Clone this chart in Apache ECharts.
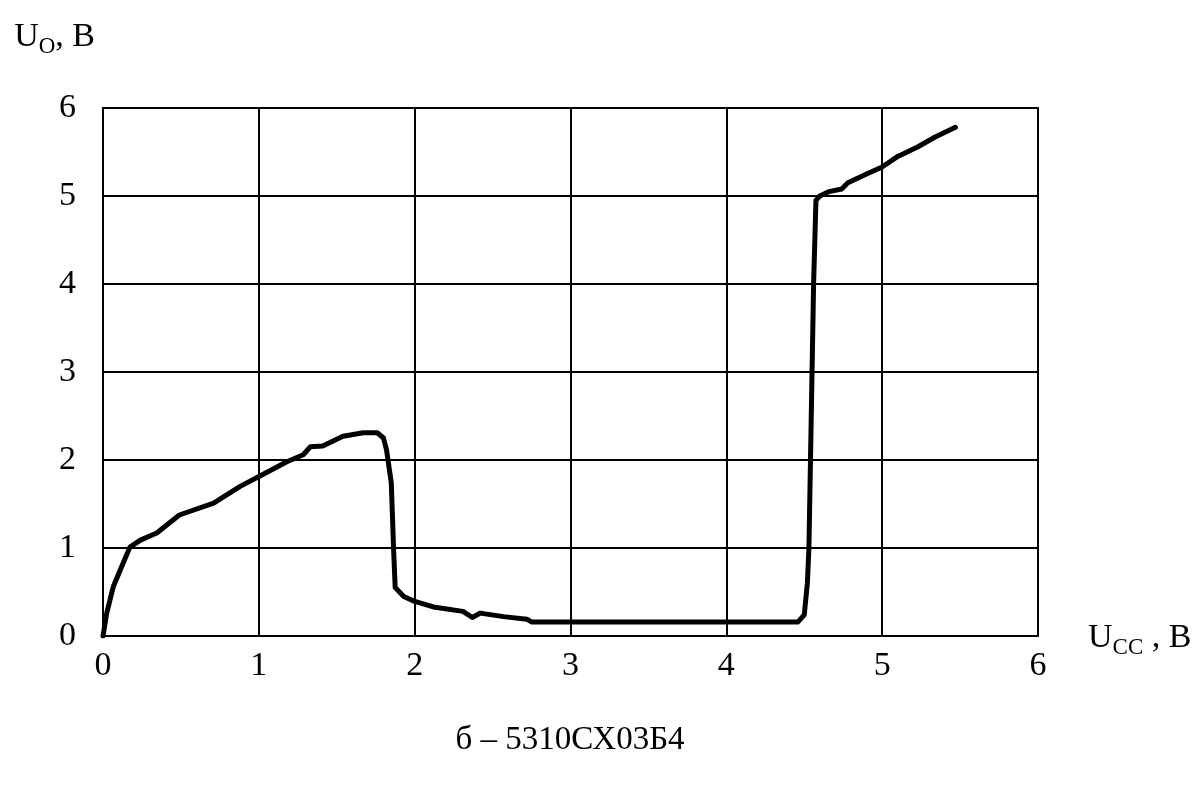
<!DOCTYPE html>
<html>
<head>
<meta charset="utf-8">
<script src="https://cdn.jsdelivr.net/npm/echarts@6/dist/echarts.min.js"></script>
<style>
  html, body { margin: 0; padding: 0; background: #fff; }
  #chart { width: 1199px; height: 789px; }
</style>
</head>
<body>
<div id="chart"></div>
<script>
// Transfer characteristic: output voltage vs. supply voltage
const ucc = [0, 0.024, 0.066, 0.12, 0.173, 0.24, 0.345, 0.49, 0.71, 0.88, 1.01, 1.18, 1.285, 1.33, 1.41, 1.54, 1.67, 1.76, 1.80, 1.82, 1.85, 1.865, 1.875, 1.93, 1.99, 2.12, 2.31, 2.37, 2.42, 2.57, 2.72, 2.75, 3.5, 4.46, 4.50, 4.52, 4.53, 4.54, 4.55, 4.56, 4.575, 4.60, 4.66, 4.74, 4.78, 4.90, 5.0, 5.1, 5.23, 5.34, 5.47];
const uo  = [0, 0.26, 0.56, 0.79, 1.01, 1.09, 1.17, 1.375, 1.51, 1.70, 1.82, 1.98, 2.06, 2.15, 2.16, 2.27, 2.31, 2.31, 2.25, 2.11, 1.74, 0.98, 0.55, 0.45, 0.40, 0.33, 0.28, 0.21, 0.26, 0.22, 0.19, 0.16, 0.16, 0.16, 0.24, 0.6, 1.0, 2.0, 3.0, 4.0, 4.95, 5.0, 5.05, 5.08, 5.15, 5.25, 5.33, 5.45, 5.56, 5.67, 5.78];
const xTicks = [0, 1, 2, 3, 4, 5, 6];
const yTicks = [0, 1, 2, 3, 4, 5, 6];
const caption = 'б – 5310СХ03Б4';

const serif = '"Liberation Serif", "DejaVu Serif", serif';
const points = ucc.map((x, i) => [x, uo[i]]);

const nameRich = {
  a: { fontFamily: serif, fontSize: 34, color: '#000', lineHeight: 38, verticalAlign: 'bottom' },
  b: { fontFamily: serif, fontSize: 23, color: '#000', lineHeight: 38, verticalAlign: 'bottom', padding: [0, 0, -4, 0] }
};

const chart = echarts.init(document.getElementById('chart'));
chart.setOption({
  backgroundColor: '#fff',
  animation: false,
  graphic: [{
    type: 'text',
    x: 570, y: 740,
    style: {
      text: caption, fill: '#000',
      font: '33px ' + serif,
      textAlign: 'center', textVerticalAlign: 'middle'
    }
  }],
  grid: {
    left: 103, top: 108, right: 161, bottom: 153,
    show: true, borderColor: '#000', borderWidth: 2, backgroundColor: 'transparent'
  },
  xAxis: {
    type: 'value', min: xTicks[0], max: xTicks[xTicks.length - 1], interval: 1,
    axisLine: { show: false }, axisTick: { show: false },
    splitLine: { show: true, lineStyle: { color: '#000', width: 2 } },
    axisLabel: { margin: 13, fontFamily: serif, fontSize: 34, color: '#000' },
    name: '{a|U}{b|CC}{a| , В}',
    nameLocation: 'end', nameGap: 50,
    nameTextStyle: { rich: nameRich }
  },
  yAxis: {
    type: 'value', min: yTicks[0], max: yTicks[yTicks.length - 1], interval: 1,
    axisLine: { show: false }, axisTick: { show: false },
    splitLine: { show: true, lineStyle: { color: '#000', width: 2 } },
    axisLabel: { margin: 27, fontFamily: serif, fontSize: 34, color: '#000' },
    name: '{a|U}{b|O}{a|, В}',
    nameLocation: 'end', nameGap: 54,
    nameTextStyle: { align: 'right', padding: [0, 8, 0, 0], rich: nameRich }
  },
  series: [{
    type: 'line',
    data: points,
    showSymbol: false,
    smooth: false,
    lineStyle: { color: '#000', width: 5, cap: 'round', join: 'round' }
  }]
});
</script>
</body>
</html>
